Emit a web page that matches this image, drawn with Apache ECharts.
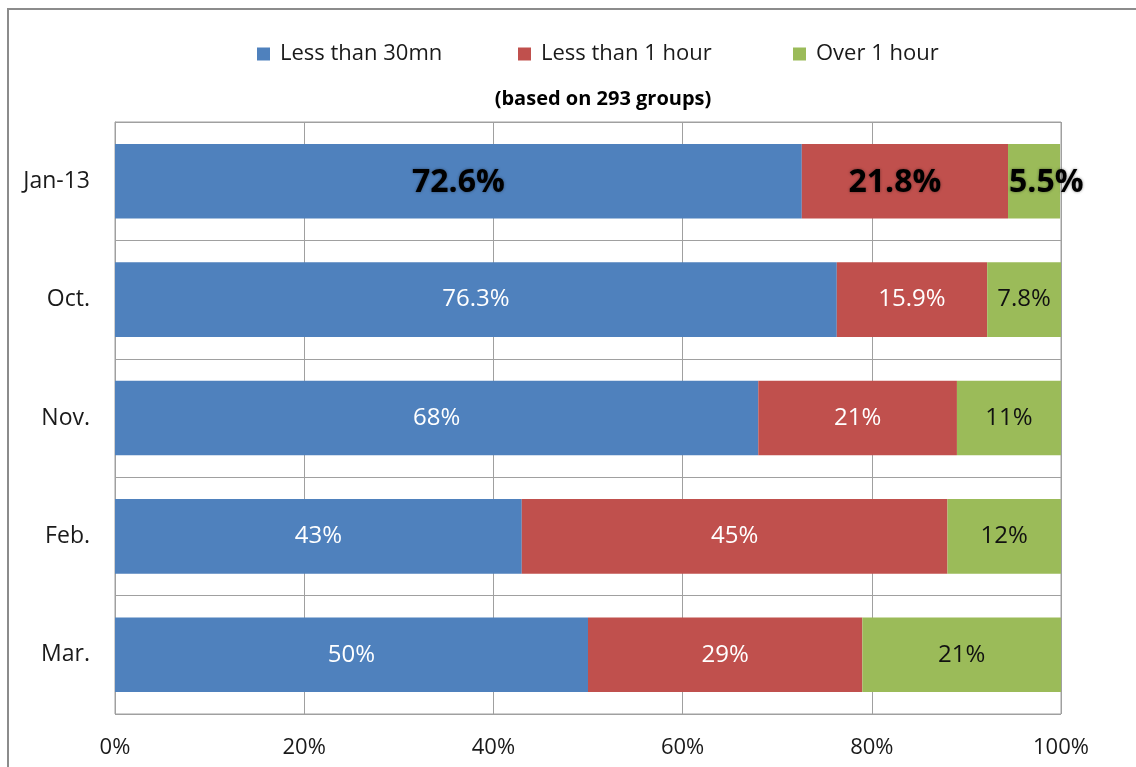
<!DOCTYPE html>
<html>
<head>
<meta charset="utf-8">
<script src="https://cdn.jsdelivr.net/npm/echarts@6/dist/echarts.min.js"></script>
<style>
    html, body { margin: 0; padding: 0; background: #fff; }
    #frame { position: absolute; left: 7px; top: 8px; width: 1140px; height: 770px;
             border-left: 2px solid #8c8c8c; border-top: 2px solid #8c8c8c; }
    #chart { position: absolute; left: 0; top: 0; width: 1136px; height: 767px; }
</style>
</head>
<body>
<div id="frame"></div>
<div id="chart"></div>
<script>
    // data
    var months = ['Jan-13', 'Oct.', 'Nov.', 'Feb.', 'Mar.'];
    var under30 = [72.6, 76.3, 68, 43, 50];
    var under1h = [21.8, 15.9, 21, 45, 29];
    var over1h = [5.5, 7.8, 11, 12, 21];
    var seriesNames = ['Less than 30mn', 'Less than 1 hour', 'Over 1 hour'];
    var colors = ['#4f81bd', '#c0504d', '#9bbb59'];
    var fontFamily = '"Open Sans", Lato, sans-serif';

    // first row (Jan-13) gets the big bold labels
    function withBigFirst(values, extra) {
        return values.map(function (v, i) {
            if (i !== 0) return v;
            var label = {
                color: '#000',
                fontSize: 32,
                fontWeight: 'bold',
                textShadowColor: 'rgba(0,0,0,0.45)',
                textShadowBlur: 3,
                offset: [0, 2]
            };
            if (extra) Object.assign(label, extra);
            return { value: v, label: label };
        });
    }

    function legendAt(left, name) {
        return {
            left: left,
            top: 38,
            data: [name],
            itemWidth: 13,
            itemHeight: 13,
            icon: 'rect',
            textStyle: { fontSize: 22, color: '#1a1a1a', fontFamily: fontFamily, padding: [0, 0, 0, 5] }
        };
    }

    var chart = echarts.init(document.getElementById('chart'));
    chart.setOption({
        animation: false,
        title: {
            text: '(based on 293 groups)',
            left: 598,
            textAlign: 'center',
            top: 84,
            textStyle: { fontSize: 20, fontWeight: 'bold', color: '#000', fontFamily: fontFamily }
        },
        legend: [
            legendAt(252, seriesNames[0]),
            legendAt(513, seriesNames[1]),
            legendAt(788, seriesNames[2])
        ],
        grid: {
            left: 115,
            right: 75,
            top: 122,
            bottom: 53,
            show: true,
            borderColor: '#a0a0a0',
            borderWidth: 1
        },
        xAxis: {
            type: 'value',
            min: 0,
            max: 100,
            interval: 20,
            axisLine: { show: false },
            axisTick: { show: false },
            splitLine: { lineStyle: { color: '#a0a0a0', width: 1 } },
            axisLabel: {
                formatter: '{value}%',
                fontSize: 22,
                color: '#1a1a1a',
                fontFamily: fontFamily,
                margin: 23
            }
        },
        yAxis: {
            type: 'category',
            inverse: true,
            data: months,
            axisLine: { show: true, lineStyle: { color: '#a0a0a0' } },
            axisTick: { show: false },
            splitLine: { show: true, lineStyle: { color: '#a0a0a0', width: 1 } },
            axisLabel: {
                fontSize: 23,
                color: '#1a1a1a',
                fontFamily: fontFamily,
                margin: 25
            }
        },
        series: [
            {
                name: seriesNames[0],
                type: 'bar',
                stack: 'total',
                barWidth: '63%',
                itemStyle: { color: colors[0] },
                label: { show: true, position: 'inside', formatter: '{c}%', color: '#fff', fontSize: 24, fontFamily: fontFamily },
                data: withBigFirst(under30)
            },
            {
                name: seriesNames[1],
                type: 'bar',
                stack: 'total',
                barWidth: '63%',
                itemStyle: { color: colors[1] },
                label: { show: true, position: 'inside', formatter: '{c}%', color: '#fff', fontSize: 24, fontFamily: fontFamily },
                data: withBigFirst(under1h, { offset: [-10, 2] })
            },
            {
                name: seriesNames[2],
                type: 'bar',
                stack: 'total',
                barWidth: '63%',
                itemStyle: { color: colors[2] },
                label: { show: true, position: 'inside', formatter: '{c}%', color: '#111', fontSize: 24, fontFamily: fontFamily },
                data: withBigFirst(over1h, { position: 'insideLeft', distance: 1 })
            }
        ]
    });
</script>
</body>
</html>
